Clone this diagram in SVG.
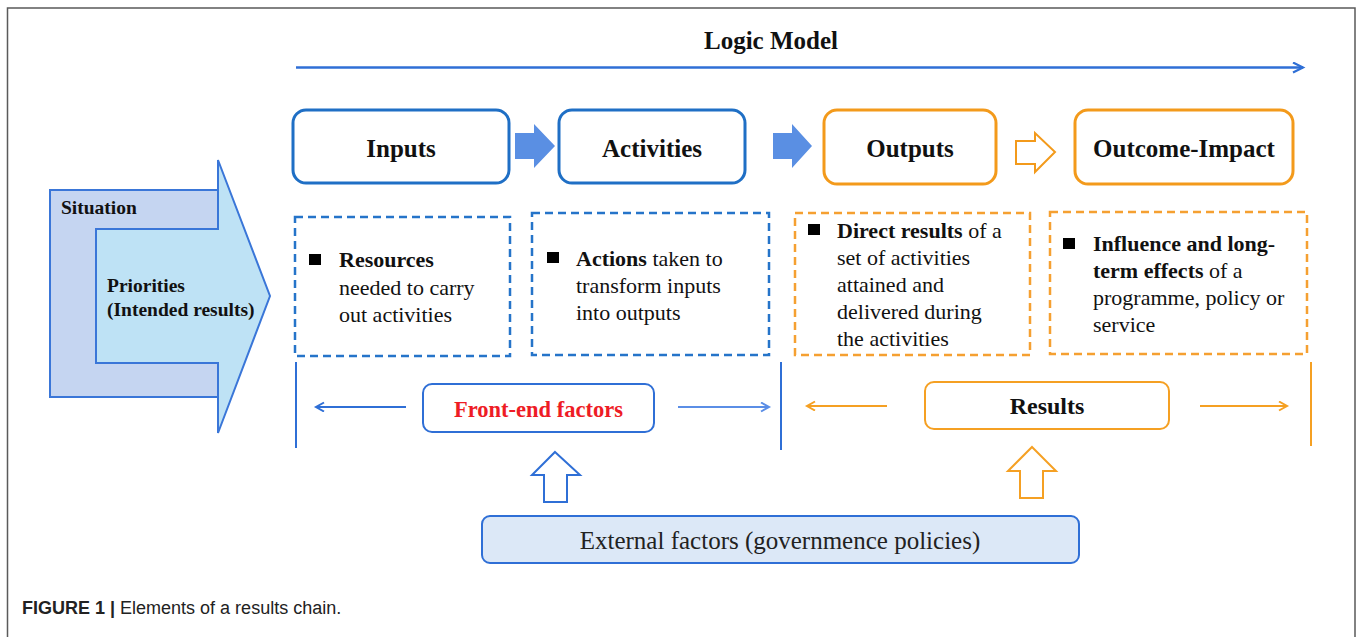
<svg xmlns="http://www.w3.org/2000/svg" width="1357" height="637" viewBox="0 0 1357 637">
<style>
.serif{font-family:"Liberation Serif","Times New Roman",serif;fill:#111}
.b{font-weight:bold}
.title{font-size:25px;font-weight:bold}
.body{font-size:22px}
.bluebox{fill:#fff;stroke:#1f6fc5;stroke-width:3}
.orbox{fill:#fff;stroke:#f39a1b;stroke-width:3}
.dblue{fill:#fff;stroke:#2574c9;stroke-width:2.5;stroke-dasharray:8 5}
.dor{fill:#fff;stroke:#f5a031;stroke-width:2.5;stroke-dasharray:8 5}
.bl{stroke:#2f6fd6;stroke-width:2;fill:none}
.bl2{stroke:#5b8ee6;stroke-width:2;fill:none}
.or{stroke:#f5a023;stroke-width:2;fill:none}
</style>
<defs>
<marker id="chevB" markerUnits="userSpaceOnUse" markerWidth="12" markerHeight="12" refX="9" refY="5" orient="auto"><path d="M1,0.5 L9,5 L1,9.5" fill="none" stroke="#2f6fd6" stroke-width="2"/></marker>
<marker id="chevB2" markerUnits="userSpaceOnUse" markerWidth="12" markerHeight="12" refX="9" refY="5" orient="auto"><path d="M1,0.5 L9,5 L1,9.5" fill="none" stroke="#5b8ee6" stroke-width="2"/></marker>
<marker id="chevO" markerUnits="userSpaceOnUse" markerWidth="12" markerHeight="12" refX="9" refY="5" orient="auto"><path d="M1,0.5 L9,5 L1,9.5" fill="none" stroke="#f5a023" stroke-width="2"/></marker>
<marker id="chevL" markerUnits="userSpaceOnUse" markerWidth="14" markerHeight="14" refX="11" refY="6" orient="auto"><path d="M1,1 L11,6 L1,11" fill="none" stroke="#2f6fd6" stroke-width="2.2"/></marker>
</defs>
<rect width="1357" height="637" fill="#fff"/>
<path d="M7.5,637 V8 H1355 V637" fill="none" stroke="#5a5a5a" stroke-width="1.5"/>

<g id="logic-model">
<text class="serif title" x="771" y="49" text-anchor="middle">Logic Model</text>
<line x1="296" y1="67.5" x2="1303" y2="67.5" stroke="#2f6fd6" stroke-width="2.5" marker-end="url(#chevL)"/>
</g>

<g id="situation">
<rect x="50" y="190" width="168" height="207" fill="#c5d5f1" stroke="#3a76d8" stroke-width="2"/>
<polygon points="96,229 218,229 218,160 270,296 218,433 218,363 96,363" fill="#bee2f5" stroke="#3a76d8" stroke-width="2"/>
<text class="serif b" x="61" y="214" font-size="19.5">Situation</text>
<text class="serif b" x="107" y="292" font-size="19.5">Priorities</text>
<text class="serif b" x="107" y="316" font-size="19.5">(Intended results)</text>
</g>

<g id="inputs">
<rect class="bluebox" x="293" y="110" width="216" height="73" rx="13"/>
<text class="serif title" x="401" y="157" text-anchor="middle">Inputs</text>
</g>
<g id="activities">
<rect class="bluebox" x="559" y="110" width="186" height="73" rx="13"/>
<text class="serif title" x="652" y="157" text-anchor="middle">Activities</text>
</g>
<g id="outputs">
<rect class="orbox" x="824" y="110" width="172" height="74" rx="13"/>
<text class="serif title" x="910" y="157" text-anchor="middle">Outputs</text>
</g>
<g id="outcome-impact">
<rect class="orbox" x="1075" y="110" width="218" height="74" rx="13"/>
<text class="serif title" x="1184" y="157" text-anchor="middle">Outcome-Impact</text>
</g>

<g id="inputs-desc">
<rect class="dblue" x="295" y="217" width="215" height="139"/>
<rect x="309" y="254" width="12" height="11" fill="#000"/>
<text class="serif body" x="339" y="267"><tspan class="b">Resources</tspan></text>
<text class="serif body" x="339" y="295">needed to carry</text>
<text class="serif body" x="339" y="322">out activities</text>
</g>
<g id="activities-desc">
<rect class="dblue" x="532" y="213" width="237" height="142"/>
<rect x="547" y="252" width="12" height="11" fill="#000"/>
<text class="serif body" x="576" y="266"><tspan class="b">Actions</tspan> taken to</text>
<text class="serif body" x="576" y="293">transform inputs</text>
<text class="serif body" x="576" y="320">into outputs</text>
</g>
<g id="outputs-desc">
<rect class="dor" x="795" y="213" width="235" height="142"/>
<rect x="808" y="224" width="12" height="11" fill="#000"/>
<text class="serif body" x="837" y="238"><tspan class="b">Direct results</tspan> of a</text>
<text class="serif body" x="837" y="265">set of activities</text>
<text class="serif body" x="837" y="292">attained and</text>
<text class="serif body" x="837" y="319">delivered during</text>
<text class="serif body" x="837" y="346">the activities</text>
</g>
<g id="outcome-desc">
<rect class="dor" x="1050" y="212" width="257" height="142"/>
<rect x="1063" y="238" width="12" height="11" fill="#000"/>
<text class="serif body" x="1093" y="251"><tspan class="b">Influence and long-</tspan></text>
<text class="serif body" x="1093" y="278"><tspan class="b">term effects</tspan> of a</text>
<text class="serif body" x="1093" y="305">programme, policy or</text>
<text class="serif body" x="1093" y="332">service</text>
</g>

<g id="front-end">
<rect x="423" y="384" width="231" height="48" rx="9" fill="#fff" stroke="#2f6fd6" stroke-width="2"/>
<text class="serif b" x="538.5" y="417" font-size="22.5" text-anchor="middle" style="fill:#ee1c25">Front-end factors</text>
</g>
<g id="results">
<rect x="925" y="382" width="244" height="47" rx="9" fill="#fff" stroke="#f5a023" stroke-width="2"/>
<text class="serif b" x="1047" y="414" font-size="24" text-anchor="middle">Results</text>
</g>
<g id="external">
<rect x="482" y="516" width="597" height="47" rx="8" fill="#dce8f7" stroke="#2f6fd6" stroke-width="2"/>
<text class="serif" x="780" y="549" font-size="25" text-anchor="middle" style="fill:#222">External factors (governmence policies)</text>
</g>

<g id="connectors">
<polygon points="515,133 534,133 534,124 555,146 534,168 534,159 515,159" fill="#5a8fe3"/>
<polygon points="773,133 792,133 792,124 812,146 792,168 792,159 773,159" fill="#5a8fe3"/>
<polygon points="1016,141 1035,141 1035,133 1055,152 1035,172 1035,164 1016,164" fill="#fff" stroke="#f39a1b" stroke-width="2"/>
<line class="bl" x1="296" y1="362" x2="296" y2="448" stroke-width="1.5"/>
<line class="bl" x1="781" y1="362" x2="781" y2="450" stroke-width="1.5"/>
<line class="or" x1="1311" y1="362" x2="1311" y2="446" stroke-width="1.5"/>
<line class="bl" x1="406" y1="407" x2="316" y2="407" marker-end="url(#chevB)"/>
<line class="bl2" x1="678" y1="407" x2="769" y2="407" marker-end="url(#chevB2)"/>
<line class="or" x1="887" y1="406" x2="807" y2="406" marker-end="url(#chevO)"/>
<line class="or" x1="1200" y1="406" x2="1287" y2="406" marker-end="url(#chevO)"/>
<polygon points="555,452 580,475 567,475 567,502 544,502 544,475 532,475" fill="#fff" stroke="#2f6fd6" stroke-width="2"/>
<polygon points="1032,447 1056,471 1043,471 1043,498 1020,498 1020,471 1008,471" fill="#fff" stroke="#f5a023" stroke-width="2"/>
</g>

<text x="22" y="614" font-family="Liberation Sans, Arial, sans-serif" font-size="18" fill="#222"><tspan font-weight="bold">FIGURE 1 |</tspan> Elements of a results chain.</text>
</svg>
